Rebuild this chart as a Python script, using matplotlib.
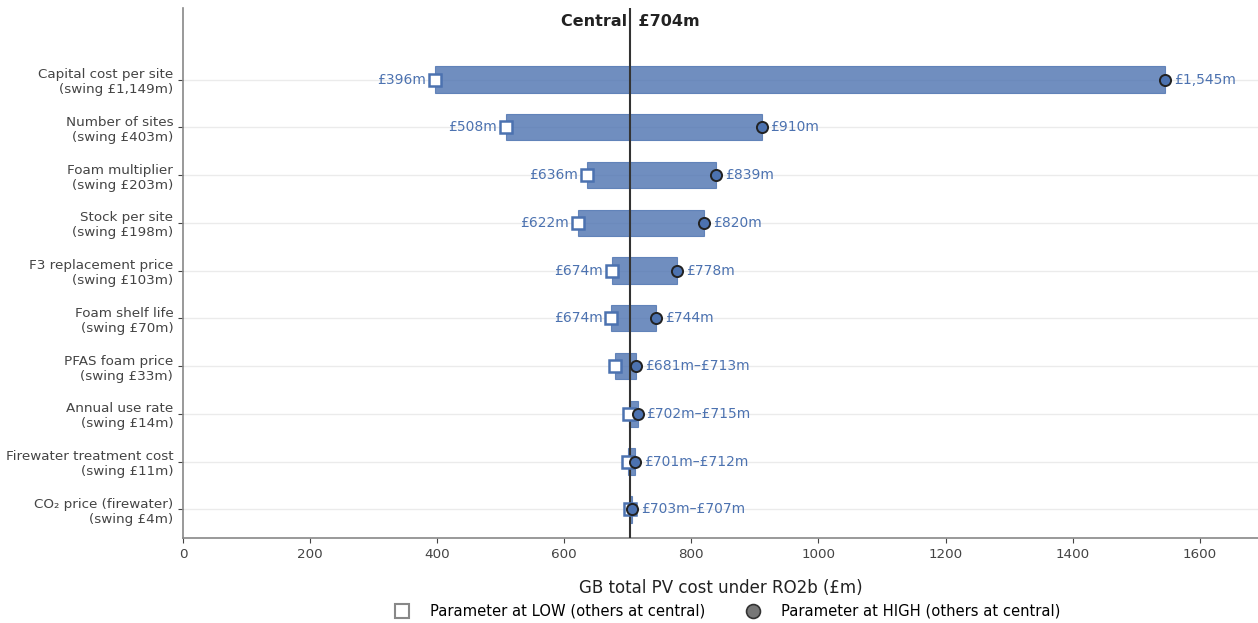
import matplotlib
matplotlib.use("Agg")
import matplotlib.pyplot as plt
from matplotlib.lines import Line2D

# Tornado data: GB total PV cost (£m) with each parameter at LOW / HIGH
parameters = [
    "Capital cost per site",
    "Number of sites",
    "Foam multiplier",
    "Stock per site",
    "F3 replacement price",
    "Foam shelf life",
    "PFAS foam price",
    "Annual use rate",
    "Firewater treatment cost",
    "CO\u2082 price (firewater)",
]
low_values = [396, 507.6, 636, 622, 674.4, 674, 680.6, 701.6, 701, 703]
high_values = [1545, 910.4, 839, 820, 777.6, 744, 713.4, 715.4, 712, 707]
central_value = 704

BAR = "#4C72B0"
TEXT = "#444444"

fig = plt.figure(figsize=(12.58, 6.23), dpi=100)
ax = fig.add_axes([0.1455, 0.1364, 0.8545, 0.8508])

ypos = list(range(len(parameters)))
labels = []
for i, (name, lo, hi) in enumerate(zip(parameters, low_values, high_values)):
    swing = hi - lo
    labels.append(f"{name}\n(swing £{swing:,.0f}m)")
    ax.barh(i, hi - lo, left=lo, height=0.55, color=BAR, alpha=0.8,
            edgecolor=BAR, linewidth=0.8, zorder=2)
    ax.plot(lo, i, marker="s", markersize=8, markerfacecolor="white",
            markeredgecolor=BAR, markeredgewidth=1.8, zorder=4)
    ax.plot(hi, i, marker="o", markersize=8, markerfacecolor=BAR,
            markeredgecolor="#222222", markeredgewidth=1.4, zorder=4)
    if swing < 50:
        ax.text(hi + 14, i, f"£{lo:,.0f}m\u2013£{hi:,.0f}m", va="center",
                ha="left", fontsize=10, color=BAR, zorder=5)
    else:
        ax.text(lo - 14, i, f"£{lo:,.0f}m", va="center", ha="right",
                fontsize=10, color=BAR, zorder=5)
        ax.text(hi + 14, i, f"£{hi:,.0f}m", va="center", ha="left",
                fontsize=10, color=BAR, zorder=5)

ax.axvline(central_value, color="#333333", linewidth=1.5, zorder=3)
ax.text(central_value, -1.22, f"Central  £{central_value}m", ha="center",
        va="center", fontsize=11.5, fontweight="bold", color="#222222")

ax.set_yticks(ypos)
ax.set_yticklabels(labels, fontsize=9.7, color=TEXT)
ax.set_ylim(9.6, -1.5)
ax.set_xlim(0, max(high_values) * 1.095)
ax.set_xticks(range(0, 1601, 200))
ax.tick_params(axis="x", labelsize=9.7, colors=TEXT)
ax.tick_params(axis="y", colors=TEXT)

ax.grid(axis="y", color="#EBEBEB", linewidth=1.0, zorder=0)
ax.set_axisbelow(True)
for side in ("top", "right"):
    ax.spines[side].set_visible(False)
for side in ("left", "bottom"):
    ax.spines[side].set_color("#888888")
    ax.spines[side].set_linewidth(1.2)

ax.set_xlabel("GB total PV cost under RO2b (£m)", fontsize=12,
              color="#222222", labelpad=13)

handles = [
    Line2D([], [], linestyle="none", marker="s", markersize=10,
           markerfacecolor="white", markeredgecolor="#888888",
           markeredgewidth=1.5, label="Parameter at LOW (others at central)"),
    Line2D([], [], linestyle="none", marker="o", markersize=10,
           markerfacecolor="#777777", markeredgecolor="#333333",
           markeredgewidth=1.2, label="Parameter at HIGH (others at central)"),
]
fig.legend(handles=handles, loc="center", bbox_to_anchor=(0.5755, 0.019),
           ncol=2, frameon=False, fontsize=10.6, columnspacing=2.2,
           handletextpad=0.9)

fig.savefig("out.png", dpi=100)
